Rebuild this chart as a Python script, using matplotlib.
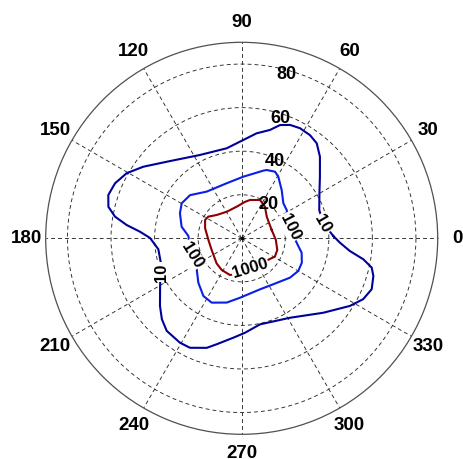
import numpy as np
import matplotlib
matplotlib.use("Agg")
import matplotlib.pyplot as plt

plt.rcParams["font.family"] = ["Liberation Sans", "DejaVu Sans"]
plt.rcParams["lines.scale_dashes"] = False

# Radial extent and grid
R_MAX = 90
ring_values = [20, 40, 60, 80]
angle_ticks = list(range(0, 360, 30))

# Contour level 10 (angle in degrees, radius)
theta_10 = [1.4, 10.4, 20.0, 30.2, 38.2, 46.2, 51.7, 56.5, 62.1, 66.9, 71.3, 75.4,
            81.9, 87.1, 91.0, 99.5, 116.6, 134.4, 144.0, 150.5, 156.5, 162.0,
            166.7, 170.3, 173.4, 176.3, 179.8, 187.5, 196.8, 210.3, 219.6, 225.4,
            231.0, 239.4, 244.7, 252.3, 256.7, 265.2, 272.0, 282.0, 301.3, 317.6,
            328.0, 333.4, 338.6, 344.0, 347.3, 350.2, 353.3, 357.4]
r_10 = [42.1, 38.1, 37.9, 41.3, 45.7, 51.9, 55.6, 56.8, 57.2, 56.6, 54.9, 51.4,
        48.7, 46.0, 44.4, 41.9, 42.8, 49.2, 55.9, 60.7, 63.4, 64.4,
        62.9, 59.0, 53.2, 46.8, 42.1, 38.6, 38.8, 43.4, 48.7, 52.2,
        54.7, 55.7, 55.6, 52.8, 50.0, 45.8, 43.4, 40.4, 42.7, 50.7,
        58.6, 62.4, 64.1, 62.9, 61.2, 56.7, 50.0, 45.2]

# Contour level 100
theta_100 = [-1.1, 15.4, 32.2, 40.1, 50.4, 59.3, 63.4, 69.9, 72.3, 88.5, 105.3,
             126.9, 140.1, 149.7, 157.9, 169.1, 177.5, 193.0, 214.6, 225.7, 236.4,
             245.0, 256.9, 268.4, 289.7, 304.5, 320.8, 330.0, 337.9, 346.5, 352.3]
r_100 = [24.5, 23.0, 24.4, 25.0, 28.8, 32.9, 34.2, 33.4, 32.6, 28.3, 26.2,
         26.8, 30.9, 31.9, 30.6, 28.1, 24.5, 24.3, 25.1, 28.5, 31.8,
         32.6, 30.3, 27.3, 24.9, 25.6, 28.6, 30.0, 29.8, 28.3, 26.2]

# Contour level 1000
theta_1000 = [15.5, 29.3, 40.8, 53.6, 64.5, 77.8, 84.8, 99.0, 119.4, 137.0, 147.1,
              153.5, 164.8, 182.9, 201.3, 225.0, 237.8, 252.3, 270.0, 285.6, 300.0,
              315.0, 331.1, 341.8, 357.2]
r_1000 = [14.3, 14.4, 15.2, 18.0, 19.5, 18.0, 16.8, 14.7, 14.0, 15.7, 18.3,
          18.8, 17.4, 15.3, 14.8, 16.3, 17.2, 17.7, 15.8, 14.1, 14.3,
          15.0, 17.4, 17.2, 15.7]

levels = ["10", "100", "1000"]
level_colors = ["#00009a", "#0a1ee6", "#8c0000"]

# Inline contour labels: (text, angle deg, radius, rotation)
contour_labels = [
    ("10", 10.0, 37.8, -60),
    ("10", 203.1, 39.9, 90),
    ("100", 13.2, 22.8, -63),
    ("100", 198.5, 24.2, -58),
    ("1000", 285.6, 14.2, 17),
]

fig = plt.figure(figsize=(4.63, 4.59), dpi=100)
ax = fig.add_axes([45.7 / 463, 24.7 / 459, 392 / 463, 392 / 459], projection="polar")
ax.set_ylim(0, R_MAX)
ax.set_xticks(np.deg2rad(angle_ticks))
ax.set_xticklabels([])
ax.set_yticks(ring_values)
ax.set_yticklabels([])
ax.grid(True, color="#2a2a2a", linestyle=(0, (2.8, 2.2)), linewidth=0.65)
ax.spines["polar"].set_color("#505050")
ax.spines["polar"].set_linewidth(0.9)

def closed(theta_deg, r):
    t = np.deg2rad(np.r_[theta_deg, theta_deg[0] + 360])
    return t, np.r_[r, r[0]]

for th, rr, col in zip([theta_10, theta_100, theta_1000], [r_10, r_100, r_1000], level_colors):
    t, rc = closed(th, rr)
    ax.plot(t, rc, color=col, linewidth=1.5, zorder=3)

for text, a, rr, rot in contour_labels:
    ax.text(np.deg2rad(a), rr, text, rotation=rot, ha="center", va="center",
            rotation_mode="anchor", fontsize=12, fontweight="bold", zorder=5,
            bbox=dict(boxstyle="square,pad=0.05", facecolor="white", edgecolor="none"))

# Angle labels around the rim
for a in angle_ticks:
    ax.text(np.deg2rad(a), 1.1 * R_MAX, str(a), ha="center", va="center",
            fontsize=13.5, fontweight="bold", clip_on=False)

# Radial labels along the 82 degree direction
c82, s82 = np.cos(np.deg2rad(82)), np.sin(np.deg2rad(82))
for v in ring_values:
    x = v * c82 + 5.0
    y = v * s82 - 4.2
    ax.text(np.arctan2(y, x), np.hypot(x, y), str(v), ha="left", va="center",
            fontsize=13, fontweight="bold", zorder=4)

ax.plot([0], [0], marker="o", markersize=1.5, color="black")

fig.savefig("out.png", dpi=100)
